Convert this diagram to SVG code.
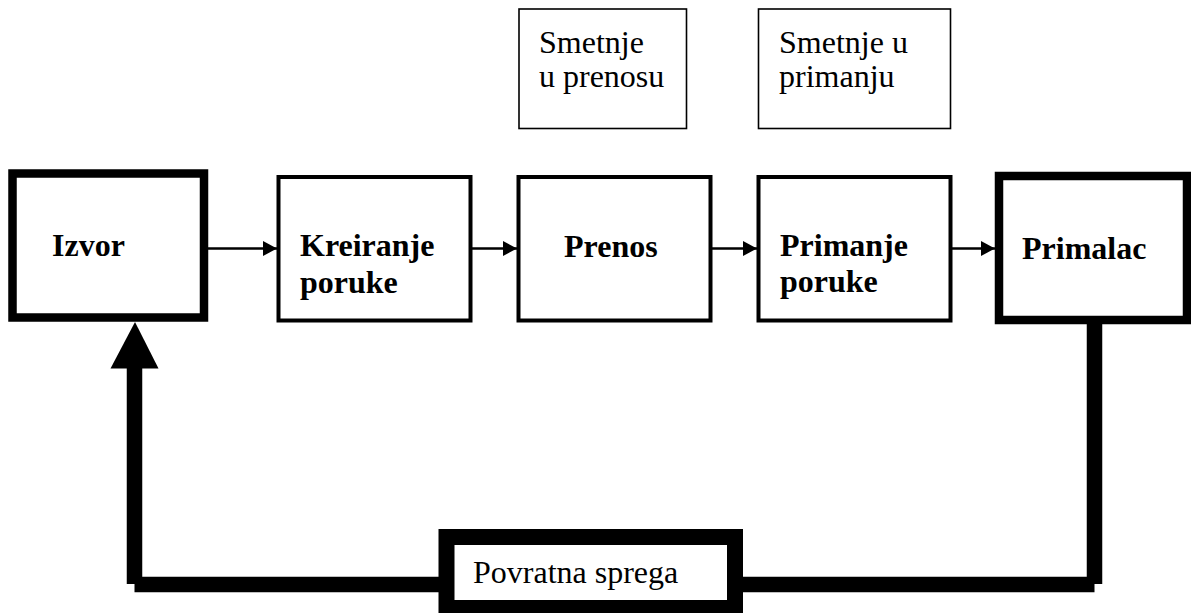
<svg xmlns="http://www.w3.org/2000/svg" width="1191" height="613" viewBox="0 0 1191 613">
<style>
.box{fill:#fff;stroke:#000}
.thin{stroke-width:1.6}
.mid{stroke-width:4}
.thick{stroke-width:8.5}
.lbl{font-family:"Liberation Serif","Times New Roman",serif;font-size:32px;fill:#000}
.b{font-weight:bold}
.conn{stroke:#000;stroke-width:2.5;fill:none}
.fb{stroke:#000;stroke-width:15.5;fill:none;stroke-linecap:butt}
</style>
<defs>
<marker id="ah" markerUnits="userSpaceOnUse" markerWidth="15" markerHeight="16" refX="14" refY="7.5" orient="auto">
<path d="M0,0 L14,7.5 L0,15 Z" fill="#000"/>
</marker>
</defs>
<rect width="1191" height="613" fill="#fff"/>
<g id="connectors">
<line class="conn" x1="208" y1="248.5" x2="277" y2="248.5" marker-end="url(#ah)"/>
<line class="conn" x1="472" y1="248.5" x2="517" y2="248.5" marker-end="url(#ah)"/>
<line class="conn" x1="712" y1="248.5" x2="757" y2="248.5" marker-end="url(#ah)"/>
<line class="conn" x1="952" y1="248.5" x2="995" y2="248.5" marker-end="url(#ah)"/>
<line class="fb" x1="1094.5" y1="322" x2="1094.5" y2="584"/>
<line class="fb" x1="1094.5" y1="584.5" x2="740" y2="584.5"/>
<line class="fb" x1="440" y1="584.5" x2="134.5" y2="584.5"/>
<line class="fb" x1="134.5" y1="584" x2="134.5" y2="366"/>
<polygon points="135,322 110.5,368.5 158.5,368.5" fill="#000"/>
</g>
<g id="smetnje-prenos">
<rect class="box thin" x="519" y="9" width="167.5" height="119.5"/>
<text class="lbl" x="539" y="53">Smetnje</text>
<text class="lbl" x="539" y="87">u prenosu</text>
</g>
<g id="smetnje-primanje">
<rect class="box thin" x="758.5" y="9" width="192" height="119.5"/>
<text class="lbl" x="779" y="53">Smetnje u</text>
<text class="lbl" x="779" y="87">primanju</text>
</g>
<g id="izvor">
<rect class="box thick" x="12.5" y="173.5" width="191.5" height="144"/>
<text class="lbl b" x="52" y="256">Izvor</text>
</g>
<g id="kreiranje">
<rect class="box mid" x="278.5" y="177" width="192" height="143.5"/>
<text class="lbl b" x="300" y="256">Kreiranje</text>
<text class="lbl b" x="300" y="293">poruke</text>
</g>
<g id="prenos">
<rect class="box mid" x="518.5" y="177" width="192" height="143.5"/>
<text class="lbl b" x="564" y="257">Prenos</text>
</g>
<g id="primanje">
<rect class="box mid" x="758.5" y="177" width="192" height="143.5"/>
<text class="lbl b" x="780" y="256">Primanje</text>
<text class="lbl b" x="780" y="292">poruke</text>
</g>
<g id="primalac">
<rect class="box thick" x="999" y="176" width="188" height="144"/>
<text class="lbl b" x="1022" y="259">Primalac</text>
</g>
<g id="povratna">
<rect class="box" style="stroke-width:16" x="446.5" y="537" width="288.5" height="71"/>
<text class="lbl" x="473" y="583">Povratna sprega</text>
</g>
</svg>
